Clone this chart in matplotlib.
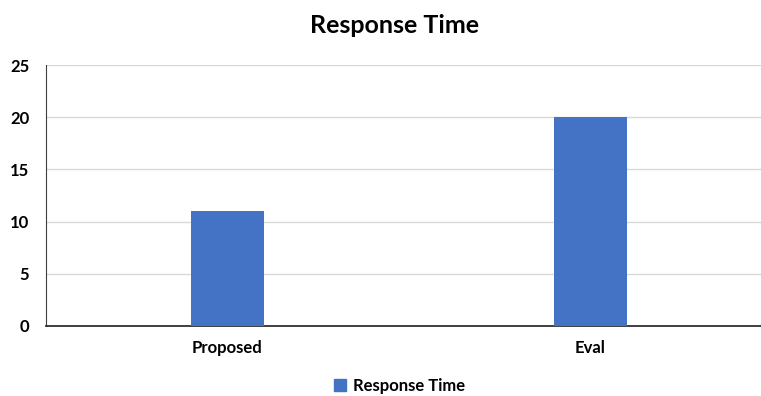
import matplotlib.pyplot as plt
from matplotlib.patches import Patch

# Datos del grafico
categorias = ['Proposed', 'Eval']
tiempos = [11, 20]
ticks_y = [0, 5, 10, 15, 20, 25]

plt.rcParams['font.family'] = ['Lato', 'DejaVu Sans']
plt.rcParams['font.weight'] = 'bold'

fig = plt.figure(figsize=(7.61, 3.96), dpi=100)
ax = fig.add_axes([0.0604, 0.1768, 0.954, 0.659])

x = range(len(categorias))
ax.bar(x, tiempos, width=0.2, color='#4472C4', zorder=3)

ax.set_xlim(-0.5, 1.5)
ax.set_ylim(0, 25)
ax.set_yticks(ticks_y)
ax.set_xticks(list(x))
ax.set_xticklabels(categorias, fontsize=12, fontweight='bold')
ax.set_yticklabels([str(t) for t in ticks_y], fontsize=12, fontweight='bold')
ax.tick_params(length=0, pad=12)
ax.tick_params(axis='x', pad=10)

ax.grid(axis='y', color='#d9d9d9', linewidth=1, zorder=0)
for lado in ['top', 'right']:
    ax.spines[lado].set_visible(False)
ax.spines['left'].set_color('#404040')
ax.spines['bottom'].set_color('#202020')
ax.spines['bottom'].set_linewidth(1.2)

fig.text(0.519, 0.935, 'Response Time', ha='center', va='center', fontsize=18, fontweight='bold')

fig.legend(handles=[Patch(color='#4472C4', label='Response Time')], loc='center',
           bbox_to_anchor=(0.525, 0.025), frameon=False, fontsize=12,
           handlelength=0.7, handleheight=0.7, handletextpad=0.4)

plt.savefig('out.png', dpi=100)
